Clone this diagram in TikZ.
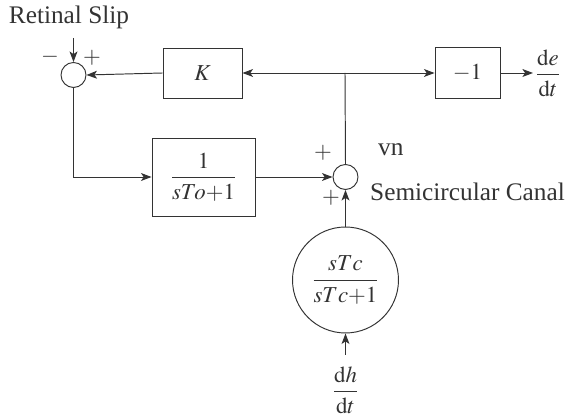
\documentclass[tikz,border=0pt]{standalone}
\usepackage{amsmath}
\usepackage{mathptmx}
\usepackage{fontspec}
\setmainfont{Liberation Serif}
\usepackage{tikz}
\usetikzlibrary{arrows.meta}

\begin{document}
\begin{tikzpicture}[x=0.02cm,y=-0.02cm,
  font=\fontsize{13}{15}\selectfont,color=black!80,
  txt/.style={font=\fontsize{14.4}{16}\selectfont},
  blk/.style={draw,semithin,inner sep=0pt,align=center},
  sum/.style={draw,semithin,circle,inner sep=0pt,minimum size=0.5cm},
  a/.style={-{Stealth[length=6pt,width=4.5pt,inset=1.5pt]},semithin},
  semithin/.style={line width=0.55pt}
]
\useasboundingbox (0,0) rectangle (565,418);
\node[txt] (slip) at (69,17) {Retinal Slip};
\coordinate (slipin) at (73.5,38);
\node[sum] (s1) at (73.5,75) {};
\node at (50,57) {$-$};
\node at (92,58) {$+$};
\node[blk,minimum width=1.58cm,minimum height=1cm] (k) at (202.5,73) {$K$};
\coordinate (j) at (345,73);
\node[blk,minimum width=1.3cm,minimum height=1.02cm] (neg) at (467.5,73) {$-1$};
\coordinate (deo) at (533,73);
\node[anchor=west,inner sep=1pt] (de) at (533,73) {$\dfrac{\mathrm{d}e}{\mathrm{d}t}$};
\node[blk,minimum width=2.06cm,minimum height=1.56cm] (lp) at (203.5,177) {$\dfrac{1}{sTo{+}1}$};
\node[sum] (s2) at (345.5,177) {};
\node at (323,153) {$+$};
\node at (331,198) {$+$};
\node[txt,anchor=west] (vn) at (372,150) {vn};
\node[blk,circle,minimum size=2.12cm] (sc) at (345.5,280) {$\dfrac{sTc}{sTc{+}1}$};
\node[txt,anchor=west] (sclbl) at (364,192) {Semicircular Canal};
\coordinate (dhin) at (345.5,355);
\node (dh) at (345.5,390) {$\dfrac{\mathrm{d}h}{\mathrm{d}t}$};
\draw[a](slipin)--(s1.north);
\draw[a](k.west)--(s1.east);
\draw[a](j)--(k.east);\draw[a](j)--(neg.west);
\draw[a](neg.east)--(deo);
\draw[semithin](j)--(s2.north);
\draw[a](s1.south)|-(lp.west);\draw[a](lp.east)--(s2.west);
\draw[a](sc.north)--(s2.south);\draw[a](dhin)--(sc.south);
\end{tikzpicture}
\end{document}
